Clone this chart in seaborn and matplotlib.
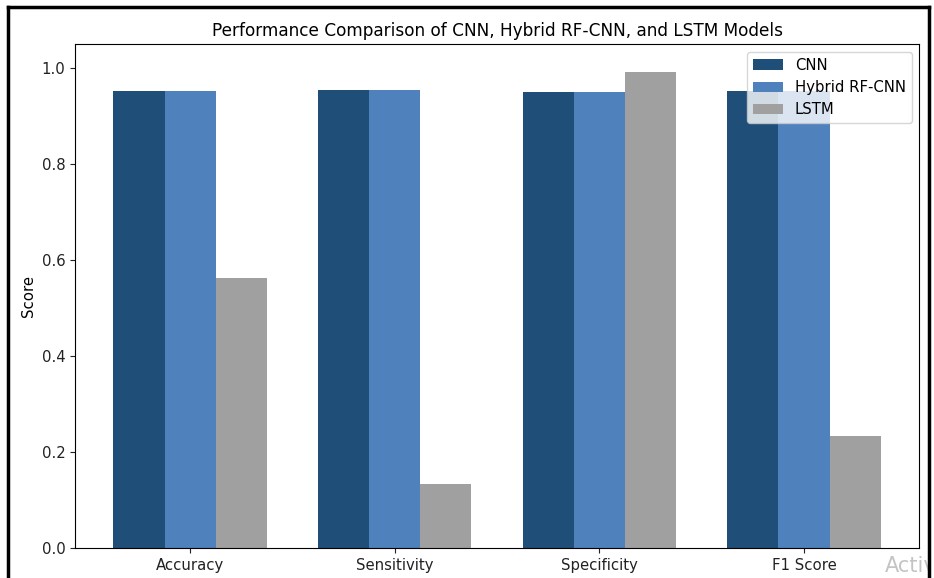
import pandas as pd
import seaborn as sns
import matplotlib.pyplot as plt
from matplotlib.lines import Line2D
from matplotlib.patches import Rectangle

# values
metrics = ["Accuracy", "Sensitivity", "Specificity", "F1 Score"]
cnn_scores = [0.952, 0.954, 0.950, 0.952]
hybrid_scores = [0.952, 0.954, 0.950, 0.952]
lstm_scores = [0.563, 0.133, 0.992, 0.233]
models = ["CNN", "Hybrid RF-CNN", "LSTM"]
colors = ["#1f4e79", "#4f81bd", "#a0a0a0"]

df = pd.DataFrame({
    "Metric": metrics * 3,
    "Model": [m for m in models for _ in metrics],
    "Score": cnn_scores + hybrid_scores + lstm_scores,
})

plt.rcParams["font.size"] = 10.7

fig = plt.figure(figsize=(9.34, 5.78), dpi=100)
ax = fig.add_axes([0.0803, 0.052, 0.9037, 0.8715])

sns.barplot(
    data=df, x="Metric", y="Score", hue="Model",
    palette=colors, width=0.75, gap=0, saturation=1,
    errorbar=None, ax=ax,
)
ax.set_xlim(-0.5625, 3.5625)
ax.set_ylim(0, 1.05)
ax.set(xlabel="", ylabel="Score")
ax.tick_params(labelsize=10.7, colors="#222222", labelcolor="#222222")
ax.set_title("Performance Comparison of CNN, Hybrid RF-CNN, and LSTM Models", fontsize=12.2)
ax.legend(loc="upper right", title=None, fontsize=10.7)

# screenshot frame and watermark
fig.text(885 / 934, 1 - 566 / 578, "Activ", fontsize=15, color="#c4c4c4", va="center")
fig.patches.append(Rectangle((929 / 934, 0), 5 / 934, 1, transform=fig.transFigure,
                             facecolor="white", edgecolor="none", zorder=10))
for xs, ys in [([8 / 934, 8 / 934], [0, 1 - 7 / 578]),
               ([8 / 934, 929 / 934], [1 - 7 / 578, 1 - 7 / 578]),
               ([929 / 934, 929 / 934], [0, 1 - 7 / 578])]:
    fig.add_artist(Line2D(xs, ys, color="black", lw=2.5, transform=fig.transFigure, zorder=11))

fig.savefig("out.png", dpi=100)
